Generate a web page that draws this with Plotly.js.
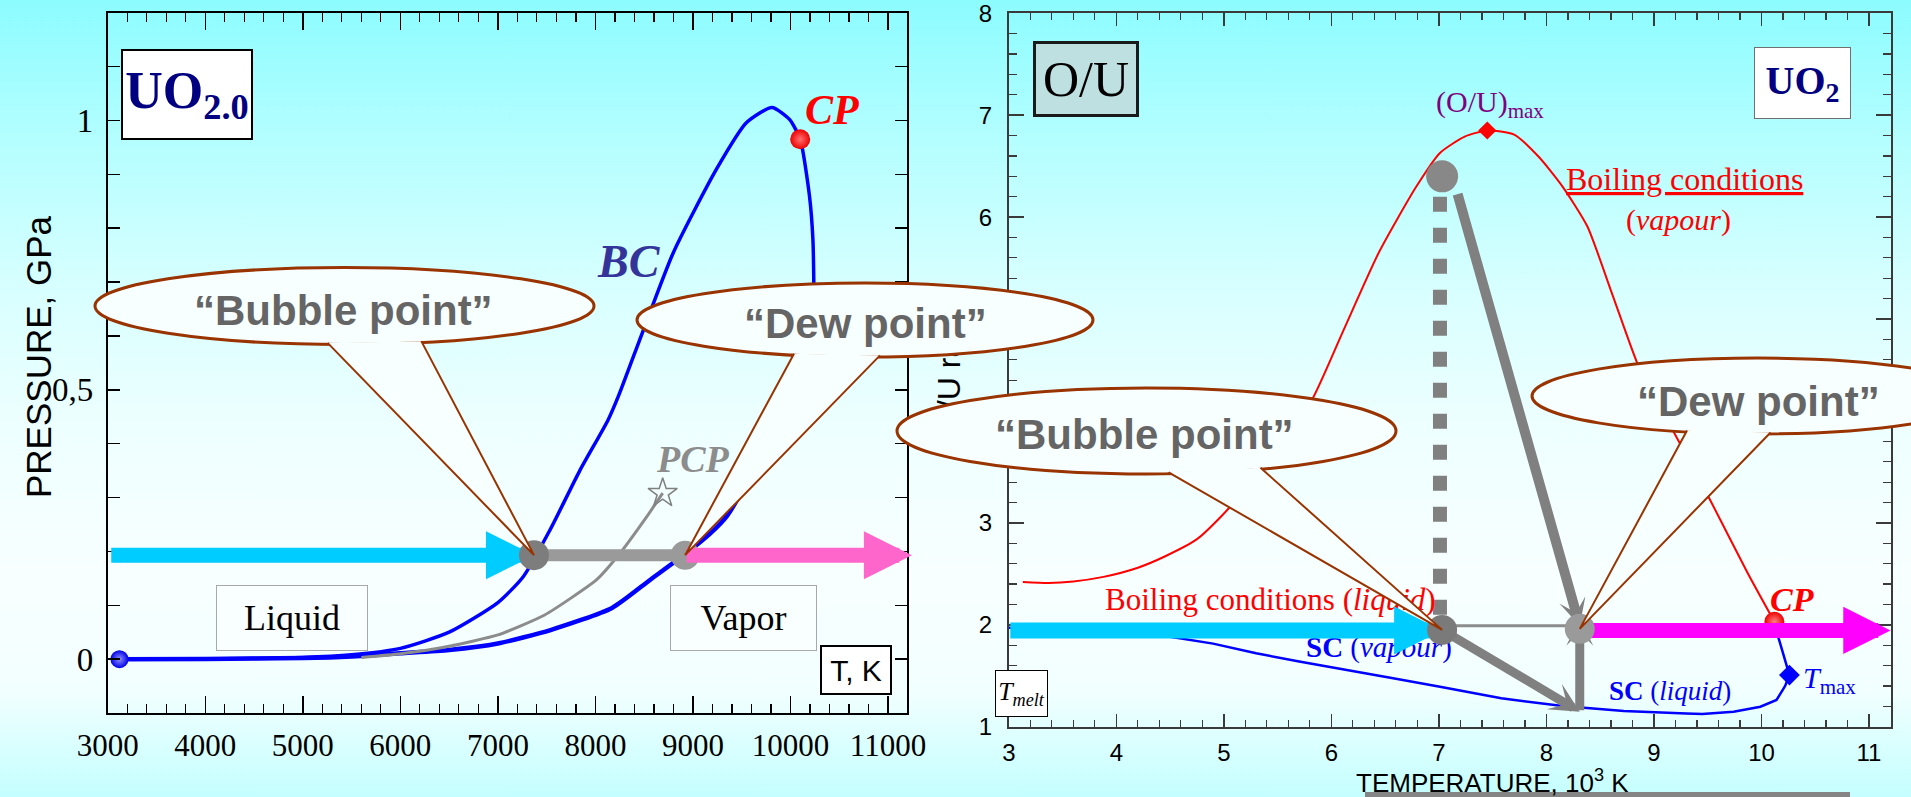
<!DOCTYPE html>
<html><head><meta charset="utf-8">
<script src="https://cdn.plot.ly/plotly-3.0.1.min.js"></script>
<style>
html,body{margin:0;padding:0;}
#wrap{position:relative;width:1911px;height:797px;overflow:hidden;
background:linear-gradient(180deg,#8cfcff 0px,#b4feff 140px,#d8ffff 290px,#eeffff 430px,#f8ffff 580px,#f2ffff 690px,#d4ffff 760px,#c4feff 797px);}
#base,#over{position:absolute;left:0;top:0;width:1911px;height:797px;}
</style></head><body>
<div id="wrap"><div id="base"></div><div id="over"></div></div>
<script>
// ---------------- DATA : left panel (pressure vs temperature, UO2.0) ----------------
const tempTickVals = [3000, 4000, 5000, 6000, 7000, 8000, 9000, 10000, 11000];
const tempTickText = ['3000', '4000', '5000', '6000', '7000', '8000', '9000', '10000', '11000'];
const pressTickVals = [0, 0.5, 1];
const pressTickText = ['0', '0,5', '1'];
// boiling curve, liquid (upper) branch
const bcLiqT = [3120, 4000, 5000, 5500, 6000, 6500, 7000, 7260, 7535, 7840, 8130, 8240, 8490, 8800, 9240, 9550, 9810, 9990, 10100, 10195, 10230, 10240, 10240];
const bcLiqP = [0, 0.0005, 0.003, 0.008, 0.02, 0.05, 0.105, 0.153, 0.24, 0.35, 0.444, 0.49, 0.61, 0.755, 0.909, 0.996, 1.024, 1.002, 0.965, 0.86, 0.78, 0.69, 0.62];
// boiling curve, vapour (lower) branch
const bcVapT = [3120, 4000, 5000, 5500, 6000, 6500, 7000, 7540, 8170, 8560, 8920, 9170, 9350, 9650, 9900, 10100, 10240];
const bcVapP = [0, 0.0003, 0.002, 0.005, 0.011, 0.017, 0.029, 0.054, 0.095, 0.147, 0.195, 0.232, 0.266, 0.36, 0.45, 0.56, 0.69];
// partial (PCP) curve
const pcpT = [5600, 6000, 6500, 7000, 7480, 8010, 8250, 8525, 8690];
const pcpP = [0.003, 0.01, 0.024, 0.045, 0.082, 0.147, 0.196, 0.264, 0.308];
const startPoint = [3120, 0];
const cpLeft = [10100, 0.965];
const pcpPoint = [8690, 0.308];
const bubbleLeft = [7370, 0.193];
const dewLeft = [8920, 0.193];
const heatPathLeftT = [3020, 11245];

// ---------------- DATA : right panel (O/U ratio vs temperature, UO2) ----------------
const tTickVals = [3, 4, 5, 6, 7, 8, 9, 10, 11];
const ouTickVals = [1, 2, 3, 4, 5, 6, 7, 8];
const boilT = [3.13, 3.37, 3.6, 3.88, 4.2, 4.45, 4.75, 4.99, 5.3, 5.55, 5.82, 6.10, 6.44, 6.79, 7.01, 7.24, 7.45, 7.70, 7.93, 8.15, 8.38, 8.61, 8.84, 9.0, 9.18, 9.52, 9.87, 10.12];
const boilR = [2.42, 2.41, 2.425, 2.47, 2.56, 2.67, 2.84, 3.08, 3.45, 3.82, 4.21, 4.86, 5.65, 6.30, 6.63, 6.79, 6.85, 6.81, 6.59, 6.30, 5.91, 5.25, 4.58, 4.23, 3.90, 3.23, 2.51, 2.03];
const scT = [3.0, 3.5, 4.0, 4.5, 4.9, 5.3, 5.7, 6.16, 6.6, 7.01, 7.58, 8.15, 8.72, 9.3, 9.45, 9.74, 9.99, 10.14, 10.22, 10.26, 10.2, 10.16, 10.13];
const scR = [1.97, 1.95, 1.92, 1.883, 1.815, 1.72, 1.64, 1.556, 1.47, 1.393, 1.279, 1.203, 1.154, 1.13, 1.125, 1.147, 1.196, 1.262, 1.40, 1.507, 1.73, 1.867, 2.03];
const ouMax = [7.45, 6.85];
const cpRight = [10.12, 2.03];
const tMaxPoint = [10.26, 1.507];
const bubbleRight = [7.03, 1.95];
const dewRight = [8.31, 1.96];
const topPoint = [7.03, 6.40];
const pathLevelR = 1.945;
const heatPathRightT = [3.0, 11.2];
const isoT = [7.01, 7.01], isoR = [6.2, 2.0];
const tieR = 1.99;
const lowCorner = [8.31, 1.147];
const slopeStart = [7.17, 6.24];

// ---------------- layout helpers ----------------
const W = 1911, H = 797;
const SERIF = 'Liberation Serif, Times New Roman, serif';
const SANS = 'Liberation Sans, Arial, sans-serif';
const P = (px, py) => ({x: px / W, y: 1 - py / H, xref: 'paper', yref: 'paper'});
function label(text, px, py, font, extra) {
  return Object.assign({text: text, showarrow: false, xanchor: 'center', yanchor: 'middle', font: font}, P(px, py), extra || {});
}
function box(text, px, py, w, h, font, bg, border, bw) {
  return label(text, px, py, font, {width: w - 2 * bw, height: h - 2 * bw, bgcolor: bg, bordercolor: border,
    borderwidth: bw, borderpad: 0, align: 'center', valign: 'middle'});
}
function arrow(xr, yr, from, to, color, width, head, size) {
  return {xref: xr, yref: yr, axref: xr, ayref: yr, x: to[0], y: to[1], ax: from[0], ay: from[1], text: '',
    showarrow: true, arrowhead: head, arrowsize: size, arrowwidth: width, arrowcolor: color, standoff: 0, startstandoff: 0};
}

const axLx = {domain: [107.8 / W, 906.5 / W], range: [3000, 11190], anchor: 'y'};
const axLy = {domain: [1 - 713 / H, 1 - 12.7 / H], range: [-0.1, 1.2], anchor: 'x'};
const axRx = {domain: [1008.8 / W, 1890.5 / W], range: [3, 11.2], anchor: 'y2'};
const axRy = {domain: [1 - 726.7 / H, 1 - 13.3 / H], range: [1, 8], anchor: 'x2'};

const baseLayout = {
  width: W, height: H, margin: {l: 0, r: 0, t: 0, b: 0},
  paper_bgcolor: 'rgba(0,0,0,0)', plot_bgcolor: 'rgba(0,0,0,0)', showlegend: false,
  font: {family: SERIF, color: '#000'},
  xaxis: Object.assign({}, axLx, {showline: true, linecolor: '#000', linewidth: 2, mirror: 'ticks', ticks: 'inside',
    ticklen: 17, tickwidth: 1.5, tickcolor: '#000', tickmode: 'array', tickvals: tempTickVals, ticktext: tempTickText,
    tickfont: {family: SERIF, size: 31, color: '#000'}, ticklabelstandoff: 4, ticklabeloverflow: 'allow',
    minor: {tickmode: 'linear', tick0: 3000, dtick: 200, ticks: 'inside', ticklen: 9, tickwidth: 1.2, tickcolor: '#000'},
    showgrid: false, zeroline: false}),
  yaxis: Object.assign({}, axLy, {showline: true, linecolor: '#000', linewidth: 2, mirror: 'ticks', ticks: 'inside',
    ticklen: 12, tickwidth: 1.5, tickcolor: '#000', tickmode: 'array', tickvals: pressTickVals, ticktext: pressTickText,
    tickfont: {family: SERIF, size: 33, color: '#000'}, ticklabelstandoff: 6, ticklabeloverflow: 'allow',
    minor: {tickmode: 'linear', tick0: 0, dtick: 0.1, ticks: 'inside', ticklen: 12, tickwidth: 1.5, tickcolor: '#000'},
    showgrid: false, zeroline: false}),
  xaxis2: Object.assign({}, axRx, {showline: true, linecolor: '#3a3a3a', linewidth: 2, mirror: 'ticks', ticks: 'inside',
    ticklen: 13, tickwidth: 1.5, tickcolor: '#3a3a3a', tickmode: 'array', tickvals: tTickVals,
    tickfont: {family: SANS, size: 24, color: '#000'}, ticklabelstandoff: 3, ticklabeloverflow: 'allow',
    minor: {tickmode: 'linear', tick0: 3, dtick: 0.2, ticks: 'inside', ticklen: 7, tickwidth: 1.2, tickcolor: '#3a3a3a'},
    showgrid: false, zeroline: false}),
  yaxis2: Object.assign({}, axRy, {showline: true, linecolor: '#3a3a3a', linewidth: 2, mirror: 'ticks', ticks: 'inside',
    ticklen: 15, tickwidth: 1.5, tickcolor: '#3a3a3a', tickmode: 'array', tickvals: ouTickVals,
    tickfont: {family: SANS, size: 24, color: '#000'}, ticklabelstandoff: 10, ticklabeloverflow: 'allow',
    minor: {tickmode: 'linear', tick0: 1, dtick: 0.2, ticks: 'inside', ticklen: 8, tickwidth: 1.2, tickcolor: '#3a3a3a'},
    showgrid: false, zeroline: false,
    title: {text: 'O/U ratio', font: {family: SANS, size: 32, color: '#000'}, standoff: 8}}),
  shapes: [
    Object.assign({type: 'rect', x0: 1365 / W, x1: 1850 / W, y0: 0, y1: 5 / H, xref: 'paper', yref: 'paper',
      fillcolor: '#858585', line: {width: 0}})
  ],
  annotations: []
};

const traces = [
  {x: bcLiqT, y: bcLiqP, xaxis: 'x', yaxis: 'y', mode: 'lines', line: {color: '#0000ff', width: 3.5, shape: 'spline', smoothing: 0.6}},
  {x: bcVapT, y: bcVapP, xaxis: 'x', yaxis: 'y', mode: 'lines', line: {color: '#0000ff', width: 4.5, shape: 'spline', smoothing: 0.6}},
  {x: pcpT, y: pcpP, xaxis: 'x', yaxis: 'y', mode: 'lines', line: {color: '#8c8c8c', width: 3, shape: 'spline', smoothing: 0.5}},
  {x: [pcpPoint[0]], y: [pcpPoint[1]], xaxis: 'x', yaxis: 'y', mode: 'markers',
    marker: {symbol: 'star-open', size: 22, color: '#808080', line: {color: '#808080', width: 1.5}}},
  {x: [startPoint[0]], y: [startPoint[1]], xaxis: 'x', yaxis: 'y', mode: 'markers',
    marker: {size: 18, color: '#0000e8', gradient: {type: 'radial', color: '#9090ff'}, line: {width: 0}}},
  {x: [cpLeft[0]], y: [cpLeft[1]], xaxis: 'x', yaxis: 'y', mode: 'markers',
    marker: {size: 20, color: '#ee0000', gradient: {type: 'radial', color: '#ff7070'}, line: {width: 0}}},
  {x: [bubbleLeft[0], dewLeft[0]], y: [bubbleLeft[1], dewLeft[1]], xaxis: 'x', yaxis: 'y', mode: 'lines',
    line: {color: '#9a9a9a', width: 12}},
  {x: [dewLeft[0]], y: [dewLeft[1]], xaxis: 'x', yaxis: 'y', mode: 'markers',
    marker: {size: 29, color: '#9a9a9a', line: {width: 0}}},
  // right panel
  {x: boilT, y: boilR, xaxis: 'x2', yaxis: 'y2', mode: 'lines', line: {color: '#ff0000', width: 2, shape: 'spline', smoothing: 0.6}},
  {x: scT, y: scR, xaxis: 'x2', yaxis: 'y2', mode: 'lines', line: {color: '#0000ff', width: 2.5}},
  {x: isoT, y: isoR, xaxis: 'x2', yaxis: 'y2', mode: 'lines', line: {color: '#808080', width: 14, dash: '15px,16px'}},
  {x: [bubbleRight[0], dewRight[0]], y: [tieR, tieR], xaxis: 'x2', yaxis: 'y2', mode: 'lines', line: {color: '#8c8c8c', width: 3}},
  {x: [ouMax[0]], y: [ouMax[1]], xaxis: 'x2', yaxis: 'y2', mode: 'markers', marker: {symbol: 'diamond', size: 14, color: '#ff0000', line: {width: 0}}},
  {x: [cpRight[0]], y: [cpRight[1]], xaxis: 'x2', yaxis: 'y2', mode: 'markers',
    marker: {size: 20, color: '#ee0000', gradient: {type: 'radial', color: '#ff8080'}, line: {width: 0}}},
  {x: [tMaxPoint[0]], y: [tMaxPoint[1]], xaxis: 'x2', yaxis: 'y2', mode: 'markers', marker: {symbol: 'diamond', size: 16, color: '#0000ff', line: {width: 0}}}
];

const A = baseLayout.annotations;
// left-panel texts
A.push(label('PRESSURE, GPa', 38, 357, {family: SANS, size: 35, color: '#000'}, {textangle: -90}));
A.push(box('<b>UO</b><sub><b>2.0</b></sub>', 187, 94.5, 132, 91, {family: SERIF, size: 52, color: '#000080'}, '#ffffff', '#000000', 2));
A.push(label('<b><i>CP</i></b>', 832, 110, {family: SERIF, size: 42, color: '#ff0000'}));
A.push(label('<b><i>BC</i></b>', 629, 261, {family: SERIF, size: 46, color: '#333399'}));
A.push(label('<b><i>PCP</i></b>', 693, 459, {family: SERIF, size: 38, color: '#8c8c8c'}));
A.push(box('Liquid', 291.5, 618, 152, 66, {family: SERIF, size: 36, color: '#000'}, '#f8fffe', '#a8a8a8', 1));
A.push(box('Vapor', 743, 618, 147, 66, {family: SERIF, size: 36, color: '#000'}, '#f8fffe', '#a8a8a8', 1));
A.push(box('T, K', 856.4, 670, 72, 50, {family: SANS, size: 30, color: '#000'}, '#ffffff', '#000000', 2));
// right-panel texts
A.push(box('O/U', 1085.8, 78.7, 106, 76, {family: SERIF, size: 50, color: '#000'}, '#bfe0e1', '#1a1a1a', 3));
A.push(box('<b>UO</b><sub><b>2</b></sub>', 1802.5, 83, 97, 72, {family: SERIF, size: 40, color: '#000080'}, '#ffffff', '#707070', 1));
A.push(label('(O/U)<sub>max</sub>', 1490, 104, {family: SERIF, size: 30, color: '#800080'}));
A.push(label('<u>Boiling conditions</u>', 1684, 179, {family: SERIF, size: 32, color: '#ff0000'}));
A.push(label('(<i>vapour</i>)', 1678, 220, {family: SERIF, size: 30, color: '#ff0000'}));
A.push(label('Boiling conditions (<i>liquid</i>)', 1270, 599, {family: SERIF, size: 31, color: '#ff0000'}));
A.push(label('<b>SC</b> (<i>vapour</i>)', 1379, 647, {family: SERIF, size: 29, color: '#0000ff'}));
A.push(label('<b>SC</b> (<i>liquid</i>)', 1670, 691, {family: SERIF, size: 27, color: '#0000ff'}));
A.push(label('<b><i>CP</i></b>', 1792, 599, {family: SERIF, size: 34, color: '#ff0000'}));
A.push(label('<i>T</i><sub>max</sub>', 1829, 680, {family: SERIF, size: 30, color: '#0000ff'}));
A.push(box('<i>T</i><sub><i>melt</i></sub>', 1021.5, 693.3, 53, 47, {family: SERIF, size: 26, color: '#000'}, '#ffffff', '#000000', 1));
A.push(label('TEMPERATURE, 10<sup>3</sup> K', 1492, 781, {family: SANS, size: 26, color: '#000'}));
// arrows
A.push(arrow('x', 'y', [heatPathLeftT[0], bubbleLeft[1]], bubbleLeft, '#00ccff', 15, 2, 0.64));
A.push(arrow('x', 'y', dewLeft, [heatPathLeftT[1], dewLeft[1]], '#ff66cc', 15, 2, 0.64));
A.push(arrow('x2', 'y2', [heatPathRightT[0], pathLevelR], [bubbleRight[0], pathLevelR], '#00ccff', 16, 2, 0.6));
A.push(arrow('x2', 'y2', [dewRight[0], pathLevelR], [heatPathRightT[1], pathLevelR], '#ff00ff', 15, 2, 0.63));
A.push(arrow('x2', 'y2', bubbleRight, lowCorner, '#808080', 9, 3, 0.55));
A.push(arrow('x2', 'y2', slopeStart, [dewRight[0], 1.99], '#808080', 10, 3, 0.45));
A.push(arrow('x2', 'y2', lowCorner, [dewRight[0], 2.06], '#808080', 9, 3, 0.5));

// ---------------- overlay (speech bubbles) ----------------
const bubbles = [
  {text: '“Bubble point”', cx: 344.5, cy: 306, rx: 249.5, ry: 38.5, b1: 327.6, b2: 421.3, tx: 343, ty: 310, ax: 'L', tip: bubbleLeft},
  {text: '“Dew point”', cx: 865, cy: 320, rx: 228, ry: 37, b1: 794, b2: 880, tx: 865, ty: 324, ax: 'L', tip: dewLeft},
  {text: '“Bubble point”', cx: 1146.5, cy: 431, rx: 249.5, ry: 43, b1: 1168.6, b2: 1260.5, tx: 1144, ty: 434, ax: 'R', tip: bubbleRight},
  {text: '“Dew point”', cx: 1758, cy: 396, rx: 226, ry: 38, b1: 1687, b2: 1770.6, tx: 1758, ty: 401, ax: 'R', tip: dewRight}
];

const overTraces = [
  {x: [bubbleLeft[0]], y: [bubbleLeft[1]], xaxis: 'x', yaxis: 'y', mode: 'markers', marker: {size: 30, color: '#7d7d7d', line: {width: 0}}},
  {x: [bubbleRight[0]], y: [bubbleRight[1]], xaxis: 'x2', yaxis: 'y2', mode: 'markers', marker: {size: 30, color: '#7a7a7a', line: {width: 0}}},
  {x: [dewRight[0]], y: [dewRight[1]], xaxis: 'x2', yaxis: 'y2', mode: 'markers', marker: {size: 30, color: '#9a9a9a', line: {width: 0}}},
  {x: [topPoint[0]], y: [topPoint[1]], xaxis: 'x2', yaxis: 'y2', mode: 'markers', marker: {size: 32, color: '#888888', line: {width: 0}}}
];

function toPx(gd, which, x, y) {
  try {
    const fl = gd._fullLayout;
    const xa = fl[which === 'L' ? 'xaxis' : 'xaxis2'], ya = fl[which === 'L' ? 'yaxis' : 'yaxis2'];
    return [xa._offset + xa.l2p(x), ya._offset + ya.l2p(y)];
  } catch (e) {
    const ax = which === 'L' ? axLx : axRx, ay = which === 'L' ? axLy : axRy;
    const fx = (x - ax.range[0]) / (ax.range[1] - ax.range[0]);
    const fy = (y - ay.range[0]) / (ay.range[1] - ay.range[0]);
    return [(ax.domain[0] + fx * (ax.domain[1] - ax.domain[0])) * W, (1 - (ay.domain[0] + fy * (ay.domain[1] - ay.domain[0]))) * H];
  }
}
function ellY(b, x) { const t = (x - b.cx) / b.rx; return b.cy + b.ry * Math.sqrt(Math.max(0, 1 - t * t)); }
const fx = px => (px / W).toFixed(5), fy = py => (1 - py / H).toFixed(5);

const blankAxes = {visible: false, showgrid: false, zeroline: false};
const overLayout = {
  width: W, height: H, margin: {l: 0, r: 0, t: 0, b: 0},
  paper_bgcolor: 'rgba(0,0,0,0)', plot_bgcolor: 'rgba(0,0,0,0)', showlegend: false,
  xaxis: Object.assign({}, axLx, blankAxes), yaxis: Object.assign({}, axLy, blankAxes),
  xaxis2: Object.assign({}, axRx, blankAxes), yaxis2: Object.assign({}, axRy, blankAxes),
  shapes: [], annotations: []
};

const cfg = {staticPlot: true, displayModeBar: false};
Plotly.newPlot('base', traces, baseLayout, cfg).then(function (gd) {
  bubbles.forEach(function (b) {
    const tip = toPx(gd, b.ax, b.tip[0], b.tip[1]);
    const y1 = ellY(b, b.b1) - 1.5, y2 = ellY(b, b.b2) - 1.5;
    overLayout.shapes.push({type: 'circle', xref: 'paper', yref: 'paper',
      x0: (b.cx - b.rx) / W, x1: (b.cx + b.rx) / W, y0: 1 - (b.cy + b.ry) / H, y1: 1 - (b.cy - b.ry) / H,
      fillcolor: '#f8ffff', line: {color: '#993300', width: 3}});
    overLayout.shapes.push({type: 'path', xref: 'paper', yref: 'paper',
      path: 'M' + fx(b.b1) + ',' + fy(y1) + ' L' + fx(tip[0]) + ',' + fy(tip[1]) + ' L' + fx(b.b2) + ',' + fy(y2),
      fillcolor: '#f8ffff', line: {color: '#993300', width: 2}});
    overLayout.annotations.push(label('<b>' + b.text + '</b>', b.tx, b.ty, {family: SANS, size: 42, color: '#656565'}));
  });
  return Plotly.newPlot('over', overTraces, overLayout, cfg);
});
</script></body></html>
